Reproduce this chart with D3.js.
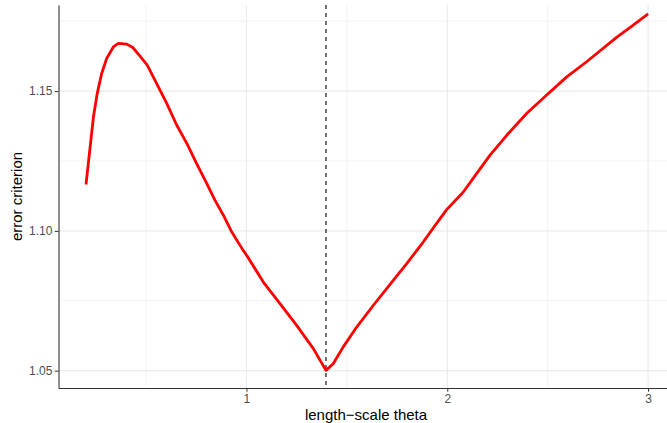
<!DOCTYPE html>
<html>
<head>
<meta charset="utf-8">
<script src="https://cdn.jsdelivr.net/npm/d3@7"></script>
<style>
  body { margin: 0; background: #fff; }
  svg { display: block; font-family: "Liberation Sans", Arial, sans-serif; }
  .grid line { stroke: #ebebeb; }
  .axis path, .axis line { stroke: #333; }
  .axis text { fill: #4d4d4d; font-size: 12px; }
</style>
</head>
<body>
<div id="chart"></div>
<script>
// error criterion vs length-scale theta
const theta = [0.201, 0.218, 0.238, 0.257, 0.279, 0.304, 0.337, 0.362, 0.404, 0.434,
    0.470, 0.506, 0.553, 0.603, 0.653, 0.703, 0.752, 0.802, 0.843, 0.885,
    0.927, 0.981, 1.001, 1.084, 1.167, 1.250, 1.333, 1.396, 1.432, 1.482,
    1.549, 1.632, 1.731, 1.798, 1.881, 1.964, 1.997, 2.080, 2.146, 2.213,
    2.296, 2.395, 2.495, 2.595, 2.694, 2.843, 2.926, 3.000];
const errorCrit = [1.1166, 1.1277, 1.1408, 1.1492, 1.1563, 1.1617, 1.1658, 1.1671, 1.1668, 1.1656,
    1.1625, 1.1593, 1.1527, 1.1456, 1.1378, 1.1313, 1.1241, 1.1170, 1.1110, 1.1056,
    1.0996, 1.0933, 1.0913, 1.0817, 1.0740, 1.0662, 1.0579, 1.0501, 1.0525, 1.0585,
    1.0656, 1.0734, 1.0823, 1.0883, 1.0961, 1.1044, 1.1076, 1.1139, 1.1205, 1.1271,
    1.1342, 1.1420, 1.1486, 1.1551, 1.1605, 1.1692, 1.1736, 1.1776];
const thetaOpt = 1.396;

const xTicks = [1, 2, 3];
const xMinor = [0.5, 1.5, 2.5];
const yTicks = [1.05, 1.10, 1.15];
const yTickLabels = ["1.05", "1.10", "1.15"];
const yMinor = [1.075, 1.125, 1.175];

const width = 667, height = 423;
const margin = {top: 5, right: -9, bottom: 35, left: 58.5};
const innerW = width - margin.left - margin.right;
const innerH = height - margin.top - margin.bottom;

const svg = d3.select('#chart')
    .append('svg')
    .attr('width', width)
    .attr('height', height);

const x = d3.scaleLinear()
    .domain([0.064, 3.139])
    .range([margin.left, margin.left + innerW]);
const y = d3.scaleLinear()
    .domain([1.0438, 1.1808])
    .range([margin.top + innerH, margin.top]);

// grid, minor first then major
const grid = svg.append('g').attr('class', 'grid');
grid.selectAll('.ymin').data(yMinor).join('line')
    .attr('x1', margin.left).attr('x2', margin.left + innerW)
    .attr('y1', d => y(d)).attr('y2', d => y(d))
    .attr('stroke-width', 0.6);
grid.selectAll('.xmin').data(xMinor).join('line')
    .attr('x1', d => x(d)).attr('x2', d => x(d))
    .attr('y1', margin.top).attr('y2', margin.top + innerH)
    .attr('stroke-width', 0.6);
grid.selectAll('.ymaj').data(yTicks).join('line')
    .attr('x1', margin.left).attr('x2', margin.left + innerW)
    .attr('y1', d => y(d)).attr('y2', d => y(d))
    .attr('stroke-width', 1.1);
grid.selectAll('.xmaj').data(xTicks).join('line')
    .attr('x1', d => x(d)).attr('x2', d => x(d))
    .attr('y1', margin.top).attr('y2', margin.top + innerH)
    .attr('stroke-width', 1.1);

// optimum
svg.append('line')
    .attr('x1', x(thetaOpt)).attr('x2', x(thetaOpt))
    .attr('y1', margin.top).attr('y2', margin.top + innerH)
    .attr('stroke', '#000')
    .attr('stroke-width', 1.1)
    .attr('stroke-dasharray', '4,4');

// curve
const line = d3.line()
    .x((d, i) => x(theta[i]))
    .y(d => y(d));
svg.append('path')
    .datum(errorCrit)
    .attr('d', line)
    .attr('fill', 'none')
    .attr('stroke', '#ff0000')
    .attr('stroke-width', 2.8)
    .attr('stroke-linejoin', 'round');

// axes
const xAxis = svg.append('g')
    .attr('class', 'axis')
    .attr('transform', `translate(0,${margin.top + innerH})`)
    .call(d3.axisBottom(x).tickValues(xTicks).tickFormat(d3.format('d'))
        .tickSize(3.7).tickPadding(3).tickSizeOuter(0));
xAxis.select('.domain').attr('stroke-width', 1.1);

const yAxis = svg.append('g')
    .attr('class', 'axis')
    .attr('transform', `translate(${margin.left},0)`)
    .call(d3.axisLeft(y).tickValues(yTicks).tickFormat((d, i) => yTickLabels[i])
        .tickSize(3.7).tickPadding(2.5).tickSizeOuter(0));
yAxis.select('.domain').attr('stroke-width', 1.1);
svg.selectAll('.axis text').style('font-family', '"Liberation Sans", Arial, sans-serif');

// titles
svg.append('text')
    .attr('x', 366)
    .attr('y', 419.5)
    .attr('text-anchor', 'middle')
    .attr('font-size', 15)
    .attr('fill', '#000')
    .text('length−scale theta');

svg.append('text')
    .attr('transform', `translate(21.5,${margin.top + innerH / 2}) rotate(-90)`)
    .attr('text-anchor', 'middle')
    .attr('font-size', 15)
    .attr('fill', '#000')
    .text('error criterion');
</script>
</body>
</html>
